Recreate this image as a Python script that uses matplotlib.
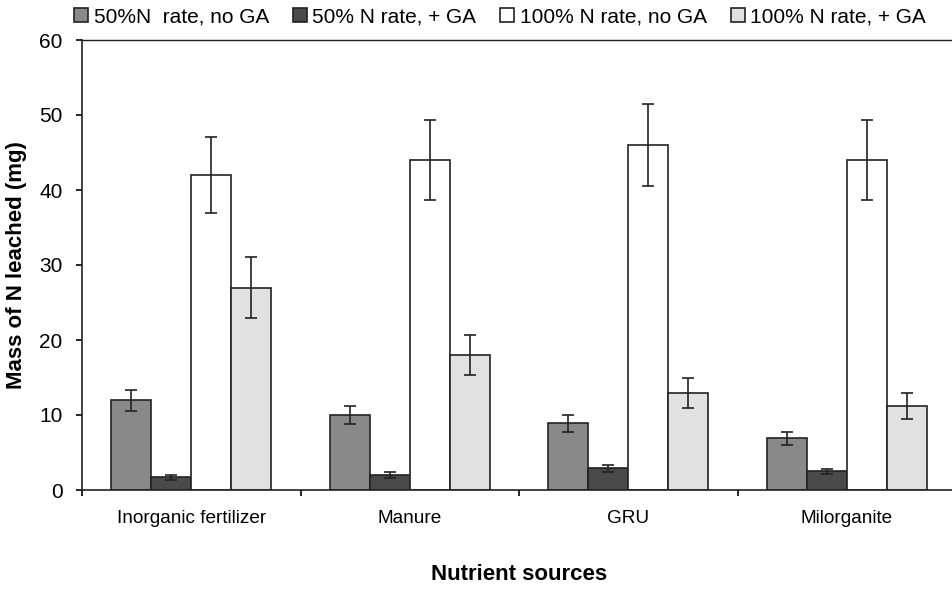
import matplotlib
matplotlib.use("Agg")
import matplotlib.pyplot as plt
import numpy as np

categories = ["Inorganic fertilizer", "Manure", "GRU", "Milorganite"]
series_labels = ["50%N  rate, no GA", "50% N rate, + GA", "100% N rate, no GA", "100% N rate, + GA"]
half_noGA = [12.0, 10.0, 8.9, 6.9]
half_GA = [1.7, 2.0, 2.9, 2.5]
full_noGA = [42.0, 44.0, 46.0, 44.0]
full_GA = [27.0, 18.0, 13.0, 11.2]
err_half_noGA = [1.4, 1.2, 1.1, 0.9]
err_half_GA = [0.3, 0.4, 0.5, 0.3]
err_full_noGA = [5.1, 5.3, 5.5, 5.3]
err_full_GA = [4.1, 2.7, 2.0, 1.7]

values = [half_noGA, half_GA, full_noGA, full_GA]
errors = [err_half_noGA, err_half_GA, err_full_noGA, err_full_GA]
colors = ["#898989", "#4a4a4a", "#ffffff", "#e1e1e1"]

plt.rcParams['font.family'] = ['Liberation Sans', 'DejaVu Sans']

fig = plt.figure(figsize=(9.52, 5.90), dpi=100)
ax = fig.add_axes([82/952, 100/590, 874/952, 450/590])

x = np.arange(len(categories))
w = 0.183
for i, (vals, errs, c, lab) in enumerate(zip(values, errors, colors, series_labels)):
    off = (i - 1.5) * w
    ax.bar(x + off, vals, w, color=c, edgecolor="#222222", linewidth=1.2, label=lab, zorder=2)
    ax.errorbar(x + off, vals, yerr=errs, fmt="none", ecolor="#222222", elinewidth=1.2,
                capsize=4, capthick=1.2, zorder=3)

ax.set_xlim(-0.5, 3.5)
ax.set_ylim(0, 60)
ax.set_yticks([0, 10, 20, 30, 40, 50, 60])
ax.tick_params(axis='y', labelsize=15, direction='out', length=4.5, width=1.2, pad=9.5)
ax.set_xticks([-0.5, 0.5, 1.5, 2.5])
ax.set_xticklabels([])
ax.tick_params(axis='x', which='major', direction='out', length=4.5, width=1.2)
ax.set_xticks(x, minor=True)
ax.set_xticklabels(categories, minor=True, fontsize=13.7)
ax.tick_params(axis='x', which='minor', length=0, pad=14.5)

for s in ['left', 'bottom', 'top', 'right']:
    ax.spines[s].set_linewidth(1.2)
    ax.spines[s].set_color("#222222")
ax.spines['top'].set_linewidth(1.0)

ylab = ax.set_ylabel("Mass of N leached (mg)", fontsize=16, fontweight='bold')
ax.yaxis.set_label_coords((17 - 82) / 874, 0.5)
ylab.set_va('center')
xlab = ax.set_xlabel("Nutrient sources", fontsize=16, fontweight='bold')
ax.xaxis.set_label_coords(0.5, (490 - 575) / 450)
xlab.set_va('center')

fig.legend(loc='center', bbox_to_anchor=(500/952, 1 - 17/590), ncol=4, frameon=False,
           fontsize=15, handlelength=0.68, handleheight=0.68, handletextpad=0.25,
           columnspacing=1.15, borderpad=0)

fig.savefig("out.png", dpi=100)
